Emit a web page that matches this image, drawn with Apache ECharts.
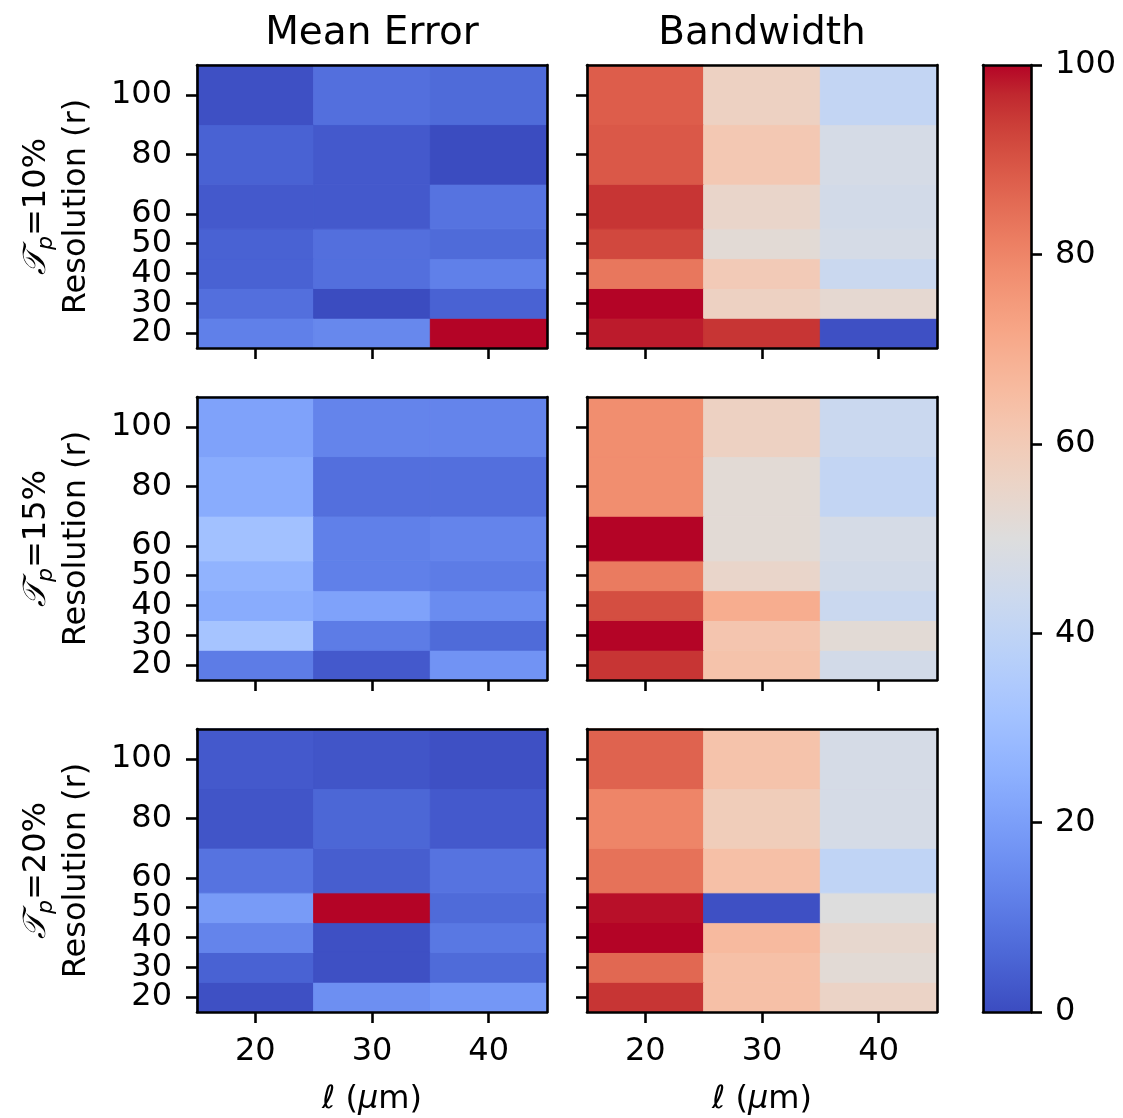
<!DOCTYPE html>
<html>
<head>
<meta charset="utf-8">
<script src="https://cdn.jsdelivr.net/npm/echarts@6/dist/echarts.min.js"></script>
<style>
  html, body { margin: 0; padding: 0; background: #fff; }
  #chart { width: 1123px; height: 1118px; }
</style>
</head>
<body>
<div id="chart"></div>
<script>
// axes
var lengths = [20, 30, 40];
var resolutions = [20, 30, 40, 50, 60, 80, 100];
var lengthEdges = [15, 25, 35, 45];
var resolutionEdges = [15, 25, 35, 45, 55, 70, 90, 110];
var thresholds = ['10%', '15%', '20%'];
var columnTitles = ['Mean Error', 'Bandwidth'];
var colorbarTicks = [0, 20, 40, 60, 80, 100];

// rows = resolution 20..100, columns = l 20, 30, 40
var meanError10 = [[12, 14, 100], [8, 0, 5], [5, 8, 12], [5, 8, 7], [3, 3, 9], [5, 3, 0], [1, 8, 7]];
var bandwidth10 = [[98, 95, 1], [100, 57, 53], [83, 60, 43], [92, 52, 47], [95, 55, 46], [89, 61, 47], [88, 57, 41]];
var meanError15 = [[11, 3, 17], [32, 11, 7], [24, 21, 15], [26, 12, 11], [31, 12, 13], [24, 8, 8], [21, 13, 13]];
var bandwidth15 = [[95, 63, 46], [100, 62, 52], [91, 70, 43], [82, 55, 46], [100, 52, 47], [78, 52, 41], [78, 57, 43]];
var meanError20 = [[1, 16, 18], [5, 1, 7], [13, 1, 10], [19, 100, 7], [9, 4, 9], [2, 6, 3], [3, 2, 1]];
var bandwidth20 = [[95, 64, 56], [86, 64, 52], [100, 66, 54], [99, 1, 50], [84, 64, 40], [80, 59, 47], [87, 63, 47]];

var panels = [meanError10, bandwidth10, meanError15, bandwidth15, meanError20, bandwidth20];

// matplotlib coolwarm
var coolwarm = ['#3b4cc0', '#445acc', '#4d68d7', '#5775e1', '#6282ea', '#6c8ef1', '#779af7', '#82a5fb',
  '#8db0fe', '#98b9ff', '#a3c2ff', '#aec9fd', '#b8d0f9', '#c2d5f4', '#ccd9ee', '#d5dbe6', '#dddddd',
  '#e5d8d1', '#ecd3c5', '#f1ccb9', '#f5c4ad', '#f7bba0', '#f7b194', '#f7a687', '#f49a7b', '#f18d6f',
  '#ec7f63', '#e57058', '#de604d', '#d55042', '#cb3e38', '#c0282f', '#b40426'];

var FONT = 'DejaVu Sans';
var colLeft = [197, 587];
var rowTop = [65, 397, 729];
var panelW = 350, panelH = 283;
var lineStyle = { color: '#000', width: 2.6 };

// the labels are split over two stacked axes so echarts does not drop the close min label
var resLabelsA = resolutions.filter(function (r, i) { return i % 2 === 0; });
var resLabelsB = resolutions.filter(function (r, i) { return i % 2 === 1; });

function renderCell(params, api) {
  var tl = api.coord([api.value(0), api.value(3)]);
  var br = api.coord([api.value(1), api.value(2)]);
  var c = api.visual('color');
  return {
    type: 'rect',
    shape: { x: tl[0], y: tl[1], width: br[0] - tl[0], height: br[1] - tl[1] },
    style: { fill: c, stroke: c, lineWidth: 1 }
  };
}

function tickLabel(show, values, margin) {
  return { show: show, customValues: values, margin: margin, fontSize: 32, fontFamily: FONT, color: '#000',
    showMinLabel: true, showMaxLabel: true };
}

var grids = [], xAxes = [], yAxes = [], series = [];

panels.forEach(function (values, k) {
  var row = Math.floor(k / 2), col = k % 2;
  grids.push({ left: colLeft[col], top: rowTop[row], width: panelW, height: panelH });

  xAxes.push({
    type: 'value', gridIndex: k, position: 'bottom', min: 15, max: 45, z: 5,
    axisLine: { show: true, onZero: false, lineStyle: lineStyle },
    axisTick: { show: true, length: 11, lineStyle: lineStyle, customValues: lengths },
    axisLabel: tickLabel(row === 2, lengths, 24),
    splitLine: { show: false },
    name: row === 2 ? '{i|ℓ} ({i|μ}m)' : '',
    nameLocation: 'middle', nameGap: 72,
    nameTextStyle: { fontSize: 32, fontFamily: FONT, color: '#000', rich: { i: { fontSize: 32, fontStyle: 'italic', fontFamily: FONT } } }
  });
  xAxes.push({
    type: 'value', gridIndex: k, position: 'top', min: 15, max: 45, z: 5,
    axisLine: { show: true, onZero: false, lineStyle: lineStyle },
    axisTick: { show: false }, axisLabel: { show: false }, splitLine: { show: false },
    name: row === 0 ? columnTitles[col] : '',
    nameLocation: 'middle', nameGap: 12,
    nameTextStyle: { fontSize: 39, fontFamily: FONT, color: '#000' }
  });

  yAxes.push({
    type: 'value', gridIndex: k, position: 'left', min: 15, max: 110, z: 5,
    axisLine: { show: true, onZero: false, lineStyle: lineStyle },
    axisTick: { show: true, length: 11, lineStyle: lineStyle, customValues: resolutions },
    axisLabel: tickLabel(col === 0, resLabelsA, 25),
    splitLine: { show: false },
    name: col === 0 ? '{t|𝒯}{s|p}{n|=' + thresholds[row] + '}\n{n|Resolution (r)}' : '',
    nameLocation: 'middle', nameRotate: 90, nameGap: 100,
    nameTextStyle: {
      fontSize: 32, fontFamily: FONT, color: '#000', align: 'center',
      rich: {
        t: { fontSize: 32, lineHeight: 40, fontStyle: 'italic', fontFamily: FONT },
        s: { fontSize: 22, lineHeight: 22, fontStyle: 'italic', fontFamily: FONT, verticalAlign: 'bottom' },
        n: { fontSize: 32, lineHeight: 40, fontFamily: FONT }
      }
    }
  });
  yAxes.push({
    type: 'value', gridIndex: k, position: 'left', min: 15, max: 110, z: 5,
    axisLine: { show: false }, axisTick: { show: false },
    axisLabel: tickLabel(col === 0, resLabelsB, 25),
    splitLine: { show: false }
  });
  yAxes.push({
    type: 'value', gridIndex: k, position: 'right', min: 15, max: 110, z: 5,
    axisLine: { show: true, onZero: false, lineStyle: lineStyle },
    axisTick: { show: false }, axisLabel: { show: false }, splitLine: { show: false }
  });

  var data = [];
  values.forEach(function (rowVals, i) {
    rowVals.forEach(function (v, j) {
      data.push([lengthEdges[j], lengthEdges[j + 1], resolutionEdges[i], resolutionEdges[i + 1], v]);
    });
  });
  series.push({
    type: 'custom', xAxisIndex: 2 * k, yAxisIndex: 3 * k,
    renderItem: renderCell, data: data, z: 2,
    encode: { x: [0, 1], y: [2, 3] }
  });
});

// colorbar
var cb = panels.length;
grids.push({ left: 983, top: 65, width: 48, height: 947 });
xAxes.push({
  type: 'value', gridIndex: cb, position: 'bottom', min: 0, max: 1, z: 5,
  axisLine: { show: true, onZero: false, lineStyle: lineStyle },
  axisTick: { show: false }, axisLabel: { show: false }, splitLine: { show: false }
});
xAxes.push({
  type: 'value', gridIndex: cb, position: 'top', min: 0, max: 1, z: 5,
  axisLine: { show: true, onZero: false, lineStyle: lineStyle },
  axisTick: { show: false }, axisLabel: { show: false }, splitLine: { show: false }
});
yAxes.push({
  type: 'value', gridIndex: cb, position: 'left', min: 0, max: 100, z: 5,
  axisLine: { show: true, onZero: false, lineStyle: lineStyle },
  axisTick: { show: false }, axisLabel: { show: false }, splitLine: { show: false }
});
yAxes.push({
  type: 'value', gridIndex: cb, position: 'right', min: 0, max: 100, interval: 20, z: 5,
  axisLine: { show: true, onZero: false, lineStyle: lineStyle },
  axisTick: { show: true, length: 11, lineStyle: lineStyle, customValues: colorbarTicks },
  axisLabel: tickLabel(true, colorbarTicks, 24),
  splitLine: { show: false }
});

var gradientStops = coolwarm.map(function (c, i) {
  return { offset: i / (coolwarm.length - 1), color: c };
});
series.push({
  type: 'custom', xAxisIndex: 2 * cb, yAxisIndex: 3 * cb, z: 2,
  data: [[0, 1, colorbarTicks[0], colorbarTicks[colorbarTicks.length - 1]]],
  encode: { x: [0, 1], y: [2, 3] },
  renderItem: function (params, api) {
    var tl = api.coord([api.value(0), api.value(3)]);
    var br = api.coord([api.value(1), api.value(2)]);
    return {
      type: 'rect',
      shape: { x: tl[0], y: tl[1], width: br[0] - tl[0], height: br[1] - tl[1] },
      style: { fill: new echarts.graphic.LinearGradient(0, 1, 0, 0, gradientStops) }
    };
  }
});

var chart = echarts.init(document.getElementById('chart'));
chart.setOption({
  animation: false,
  backgroundColor: '#fff',
  textStyle: { fontFamily: FONT },
  grid: grids,
  xAxis: xAxes,
  yAxis: yAxes,
  visualMap: {
    type: 'continuous', show: false, min: 0, max: 100, dimension: 4,
    seriesIndex: [0, 1, 2, 3, 4, 5],
    inRange: { color: coolwarm }
  },
  series: series
});
</script>
</body>
</html>
